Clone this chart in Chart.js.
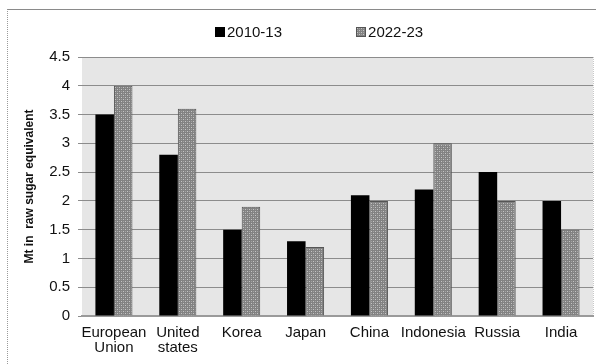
<!DOCTYPE html>
<html>
<head>
<meta charset="utf-8">
<script src="https://cdn.jsdelivr.net/npm/chart.js@4"></script>
<style>
  body { margin: 0; background: #fff; font-family: "Liberation Sans", Arial, sans-serif; }
  #wrap { position: relative; width: 596px; height: 364px; overflow: hidden; }
  #frame { position: absolute; left: 7px; top: 9px; right: -2px; bottom: -2px;
           border-top: 1px solid #8a8a8a; border-left: 1px dotted #9a9a9a; }
  #sugar { position: absolute; left: 0; top: 0; }
  #legend { position: absolute; left: 215px; top: 23px; margin: 0; padding: 0;
            list-style: none; display: flex; gap: 74px; }
  #legend li { display: flex; align-items: center; font-size: 15px; color: #111; }
  #legend canvas { margin-right: 2px; }
</style>
</head>
<body>
<div id="wrap">
  <div id="frame"></div>
  <canvas id="sugar" width="596" height="364"></canvas>
  <ul id="legend"></ul>
</div>
<script>
var regions = [["European", "Union"], ["United", "states"], "Korea", "Japan", "China", "Indonesia", "Russia", "India"];
var series1Name = "2010-13";
var series2Name = "2022-23";
var imports2010 = [3.5, 2.8, 1.5, 1.3, 2.1, 2.2, 2.5, 2.0];
var imports2022 = [4.0, 3.6, 1.9, 1.2, 2.0, 3.0, 2.0, 1.5];
var yTicks = [0, 0.5, 1, 1.5, 2, 2.5, 3, 3.5, 4, 4.5];

// dotted grey fill for the second series
function makeDots() {
  var c = document.createElement('canvas');
  c.width = 4; c.height = 4;
  var g = c.getContext('2d');
  g.fillStyle = '#828282';
  g.fillRect(0, 0, 4, 4);
  g.fillStyle = '#c4c4c4';
  g.fillRect(1, 1, 1, 1);
  g.fillRect(3, 3, 1, 1);
  g.fillStyle = '#a2a2a2';
  g.fillRect(3, 1, 1, 1);
  g.fillRect(1, 3, 1, 1);
  return g.createPattern(c, 'repeat');
}
var dots = makeDots();

// grey plot area behind the bars
var plotBg = {
  id: 'plotBg',
  beforeDraw: function(chart) {
    var a = chart.chartArea, ctx = chart.ctx;
    ctx.save();
    ctx.fillStyle = '#e6e6e6';
    ctx.fillRect(a.left, a.top, a.right - a.left, a.bottom - a.top);
    ctx.strokeStyle = '#c8c8c8';
    ctx.setLineDash([1, 1]);
    ctx.beginPath();
    ctx.moveTo(a.right + 0.5, a.top);
    ctx.lineTo(a.right + 0.5, a.bottom);
    ctx.stroke();
    ctx.restore();
  }
};

// legend as html list built from the datasets
var htmlLegend = {
  id: 'htmlLegend',
  afterUpdate: function(chart) {
    var ul = document.getElementById('legend');
    ul.innerHTML = '';
    chart.data.datasets.forEach(function(ds) {
      var li = document.createElement('li');
      var sw = document.createElement('canvas');
      sw.width = 10; sw.height = 10;
      var g = sw.getContext('2d');
      g.fillStyle = ds.backgroundColor;
      g.fillRect(0, 0, 10, 10);
      if (ds.borderWidth) {
        g.strokeStyle = ds.borderColor;
        g.strokeRect(0.5, 0.5, 9, 9);
      }
      li.appendChild(sw);
      li.appendChild(document.createTextNode(ds.label));
      ul.appendChild(li);
    });
  }
};

new Chart(document.getElementById('sugar'), {
  type: 'bar',
  data: {
    labels: regions,
    datasets: [{
      label: series1Name,
      data: imports2010,
      backgroundColor: '#000000',
      borderWidth: 0
    }, {
      label: series2Name,
      data: imports2022,
      backgroundColor: dots,
      borderColor: '#555555',
      borderWidth: 1
    }]
  },
  options: {
    responsive: false,
    devicePixelRatio: 1,
    animation: false,
    datasets: { bar: { categoryPercentage: 0.58, barPercentage: 1.0 } },
    layout: { padding: { left: 18, right: 3, top: 57, bottom: 0 } },
    plugins: {
      legend: { display: false },
      tooltip: { enabled: false }
    },
    scales: {
      x: {
        grid: { display: false, drawTicks: false },
        border: { color: '#9a9a9a', width: 2 },
        ticks: {
          color: '#111',
          padding: 10,
          maxRotation: 0,
          autoSkip: false,
          font: { family: '"Liberation Sans", Arial', size: 15, lineHeight: 0.95 }
        },
        afterFit: function(scale) { scale.height = 48; }
      },
      y: {
        min: 0,
        max: 4.5,
        afterBuildTicks: function(scale) {
          scale.ticks = yTicks.map(function(v) { return { value: v }; });
        },
        grid: { color: '#8c8c8c', lineWidth: 1, tickLength: 4 },
        border: { display: false },
        ticks: {
          color: '#111',
          padding: 8,
          font: { family: '"Liberation Sans", Arial', size: 15 },
          callback: function(v) { return String(v); }
        },
        title: {
          display: true,
          text: 'Mt in  raw sugar equivalent',
          color: '#111',
          padding: { top: 4, bottom: 0 },
          font: { family: '"Liberation Sans", Arial', size: 12, weight: 'bold' }
        },
        afterFit: function(scale) { scale.width = 64; }
      }
    }
  },
  plugins: [plotBg, htmlLegend]
});
</script>
</body>
</html>
